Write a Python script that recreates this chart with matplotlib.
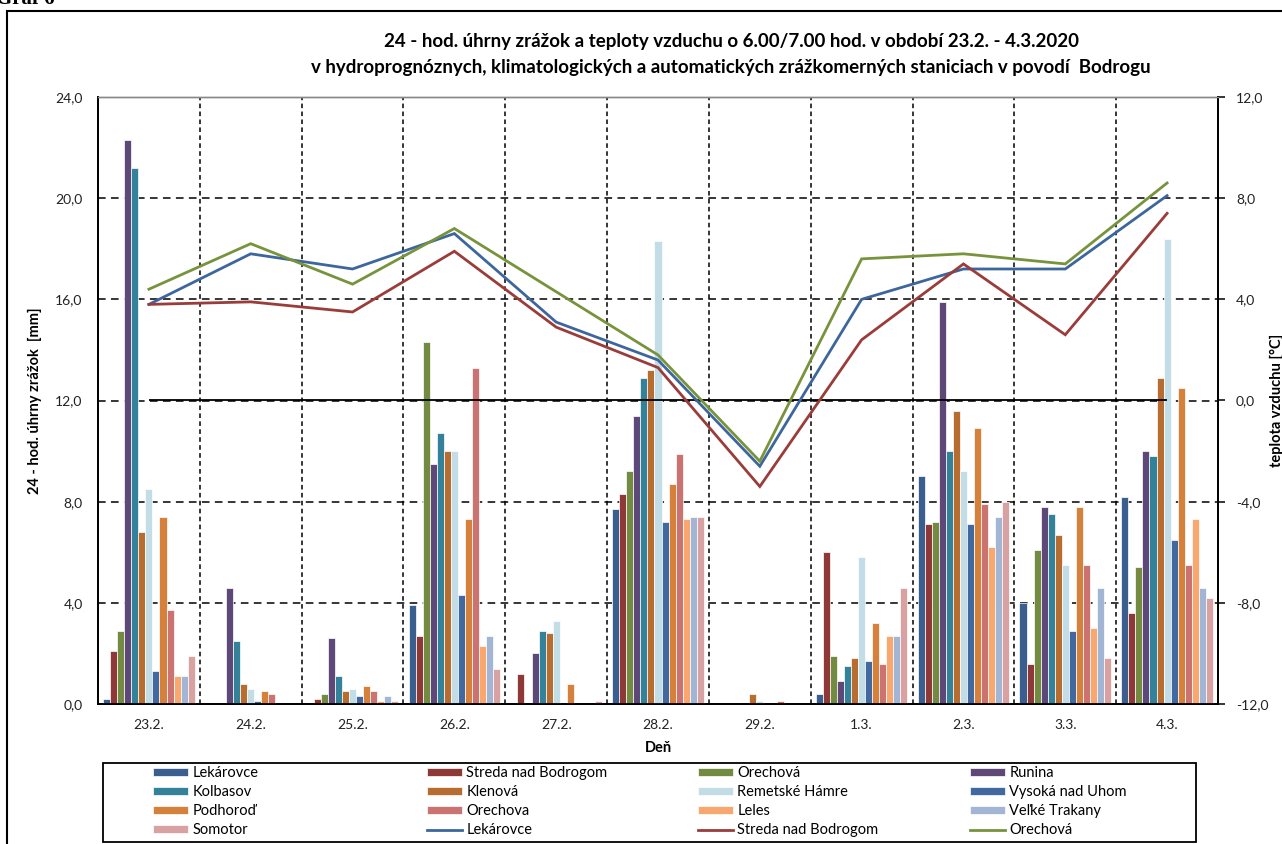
import matplotlib
matplotlib.use("Agg")
import matplotlib.pyplot as plt
import numpy as np
from matplotlib.patches import Rectangle, Patch
from matplotlib.lines import Line2D

plt.rcParams['font.family'] = ['Lato', 'DejaVu Sans']

# ---------------- data ----------------
categories = ['23.2.', '24.2.', '25.2.', '26.2.', '27.2.', '28.2.', '29.2.',
              '1.3.', '2.3.', '3.3.', '4.3.']

bar_names = ['Lekárovce', 'Streda nad Bodrogom', 'Orechová', 'Runina', 'Kolbasov',
             'Klenová', 'Remetské Hámre', 'Vysoká nad Uhom', 'Podhoroď', 'Orechova',
             'Leles', 'Veľké Trakany', 'Somotor']

p_lekarovce = [0.2, 0.0, 0.0, 3.9, 0.0, 7.7, 0.0, 0.4, 9.0, 4.0, 8.2]
p_streda = [2.1, 0.0, 0.2, 2.7, 1.2, 8.3, 0.0, 6.0, 7.1, 1.6, 3.6]
p_orechova_a = [2.9, 0.0, 0.4, 14.3, 0.0, 9.2, 0.0, 1.9, 7.2, 6.1, 5.4]
p_runina = [22.3, 4.6, 2.6, 9.5, 2.0, 11.4, 0.0, 0.9, 15.9, 7.8, 10.0]
p_kolbasov = [21.2, 2.5, 1.1, 10.7, 2.9, 12.9, 0.0, 1.5, 10.0, 7.5, 9.8]
p_klenova = [6.8, 0.8, 0.5, 10.0, 2.8, 13.2, 0.4, 1.8, 11.6, 6.7, 12.9]
p_remetske = [8.5, 0.6, 0.6, 10.0, 3.3, 18.3, 0.1, 5.8, 9.2, 5.5, 18.4]
p_vysoka = [1.3, 0.1, 0.3, 4.3, 0.0, 7.2, 0.0, 1.7, 7.1, 2.9, 6.5]
p_podhorod = [7.4, 0.5, 0.7, 7.3, 0.8, 8.7, 0.0, 3.2, 10.9, 7.8, 12.5]
p_orechova_b = [3.7, 0.4, 0.5, 13.3, 0.0, 9.9, 0.1, 1.6, 7.9, 5.5, 5.5]
p_leles = [1.1, 0.0, 0.1, 2.3, 0.0, 7.3, 0.0, 2.7, 6.2, 3.0, 7.3]
p_velke = [1.1, 0.0, 0.3, 2.7, 0.0, 7.4, 0.0, 2.7, 7.4, 4.6, 4.6]
p_somotor = [1.9, 0.0, 0.1, 1.4, 0.1, 7.4, 0.0, 4.6, 8.0, 1.8, 4.2]

line_names = ['Lekárovce', 'Streda nad Bodrogom', 'Orechová']
t_lekarovce = [3.8, 5.8, 5.2, 6.6, 3.1, 1.6, -2.6, 4.0, 5.2, 5.2, 8.1]
t_streda = [3.8, 3.9, 3.5, 5.9, 2.9, 1.3, -3.4, 2.4, 5.4, 2.6, 7.4]
t_orechova = [4.4, 6.2, 4.6, 6.8, 4.3, 1.8, -2.4, 5.6, 5.8, 5.4, 8.6]

left_ticks = [0, 4, 8, 12, 16, 20, 24]
right_ticks = [-12, -8, -4, 0, 4, 8, 12]

bar_series = [p_lekarovce, p_streda, p_orechova_a, p_runina, p_kolbasov, p_klenova,
              p_remetske, p_vysoka, p_podhorod, p_orechova_b, p_leles, p_velke, p_somotor]
line_series = [t_lekarovce, t_streda, t_orechova]

bar_colors = ['#3A5F8E', '#8E3937', '#728B41', '#5D4878', '#33829A', '#B76D30',
              '#C3DDE7', '#4169A0', '#D6813B', '#CB7371', '#F8A76E', '#A2B5D5', '#D8A2A2']
line_colors = ['#3D669D', '#9A3C39', '#77933C']

# ---------------- figure ----------------
W, H = 1282, 844
fig = plt.figure(figsize=(W / 100, H / 100), dpi=100)

def fx(px):
    return px / W

def fy(py):
    return 1 - py / H

L, R, T, B = 98, 1218, 97, 704
ax = fig.add_axes([fx(L), fy(B), fx(R - L), fy(T) - fy(B)])
ax2 = ax.twinx()

x = np.arange(len(categories))
n = len(bar_series)
slot = 0.9 / n
for i, (vals, col, name) in enumerate(zip(bar_series, bar_colors, bar_names)):
    ax.bar(x + (i - (n - 1) / 2) * slot, vals, width=slot, color=col,
           edgecolor='white', linewidth=0.5, zorder=3, label=name)

ax.set_xlim(-0.5, len(categories) - 0.5)
ax.set_ylim(left_ticks[0], left_ticks[-1])
ax.set_yticks(left_ticks)
ax.set_yticklabels([f"{v:.1f}".replace('.', ',') for v in left_ticks])
ax.set_xticks(x)
ax.set_xticklabels(categories)
ax.tick_params(axis='y', length=0, pad=11, labelsize=10, colors='#222222')
ax.tick_params(axis='x', length=0, pad=11, labelsize=10, colors='#222222')

# grid
for v in left_ticks[1:-1]:
    ax.axhline(v, color='black', lw=1.1, ls=(0, (5, 3.5)), zorder=1)
for b in x[:-1] + 0.5:
    ax.axvline(b, color='black', lw=1.1, ls=(0, (3, 2.2)), zorder=1)

ax2.set_ylim(right_ticks[0], right_ticks[-1])
ax2.set_yticks(right_ticks)
ax2.set_yticklabels([f"{v:.1f}".replace('.', ',') for v in right_ticks])
ax2.tick_params(axis='y', length=5, width=1.1, pad=8, labelsize=10, colors='#222222')
ax2.tick_params(axis='y', color='black')
ax2.hlines(0, x[0], x[-1], color='black', lw=1.3, zorder=2)

for vals, col, name in zip(line_series, line_colors, line_names):
    ax2.plot(x, vals, color=col, lw=2.0, zorder=4, label=name, solid_joinstyle='miter')

for a in (ax, ax2):
    for s in ('left', 'bottom', 'right'):
        a.spines[s].set_color('black')
        a.spines[s].set_linewidth(1.3)
    a.spines['top'].set_color('#888888')
    a.spines['top'].set_linewidth(1.0)

ax.set_ylabel('24 - hod. úhrny zrážok  [mm]', fontsize=10.5, fontweight='bold')
ax.yaxis.set_label_coords((42 - L) / (R - L), 0.5)
ax2.set_ylabel('teplota vzduchu [°C]', fontsize=10.5, fontweight='bold')
ax2.yaxis.set_label_coords((1270 - L) / (R - L), 0.5)
ax.set_xlabel('Deň', fontsize=10.5, fontweight='bold', labelpad=7)

# title
fig.text(fx(731), fy(42), '24 - hod. úhrny zrážok a teploty vzduchu o 6.00/7.00 hod. v období 23.2. - 4.3.2020',
         ha='center', va='center', fontsize=13.5, fontweight='bold')
fig.text(fx(731), fy(67), 'v hydroprognóznych, klimatologických a automatických zrážkomerných staniciach v povodí  Bodrogu',
         ha='center', va='center', fontsize=13.5, fontweight='bold')

# outer frame and cut-off caption
fig.add_artist(Rectangle((fx(7), fy(H + 20)), fx(W + 20), fy(11) - fy(H + 20),
                         transform=fig.transFigure, fill=False, ec='black', lw=1.5))
fig.text(fx(-4), fy(4), 'Graf 6', ha='left', va='baseline', fontsize=15,
         fontweight='bold', family='Liberation Serif')

# legend (row-major like Excel, drawn as 4 columns)
handles = [Patch(facecolor=c, edgecolor='white', lw=0.5) for c in bar_colors] + \
          [Line2D([], [], color=c, lw=2.0) for c in line_colors]
labels = bar_names + line_names
fig.add_artist(Rectangle((fx(103), fy(842)), fx(1196 - 103), fy(763) - fy(842),
                         transform=fig.transFigure, fill=False, ec='black', lw=1.3))
col_x = [150, 424, 695, 967]
for c in range(4):
    idx = [c + 4 * r for r in range(4) if c + 4 * r < len(handles)]
    fig.legend([handles[i] for i in idx], [labels[i] for i in idx],
               loc='upper left', bbox_to_anchor=(fx(col_x[c]), fy(763)),
               frameon=False, fontsize=10.5, handlelength=2.4, handleheight=0.5,
               handletextpad=0.3, labelspacing=0.35, borderpad=0.2, borderaxespad=0)

fig.savefig('out.png', dpi=100)
